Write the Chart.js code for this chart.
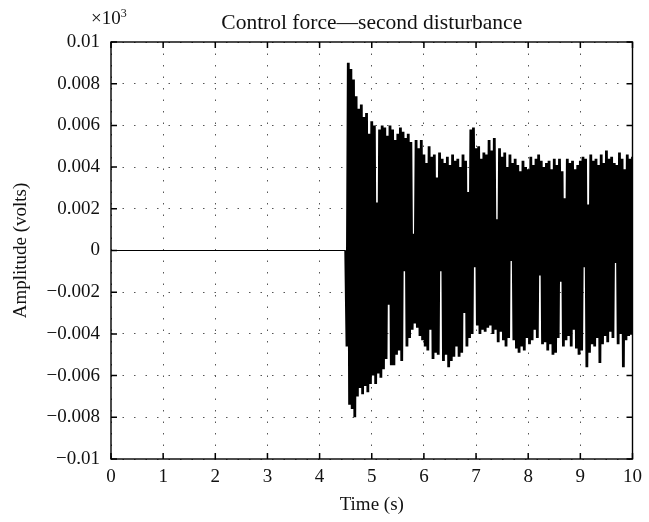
<!DOCTYPE html>
<html>
<head>
<meta charset="utf-8">
<script src="https://cdn.jsdelivr.net/npm/chart.js@4.4.1/dist/chart.umd.min.js"></script>
<style>
  html, body { margin: 0; padding: 0; background: #fff; }
</style>
</head>
<body>
<canvas id="forceChart" width="649" height="522"></canvas>
<script>
// Labels
const chartTitle = "Control force\u2014second disturbance";
const xAxisTitle = "Time (s)";
const yAxisTitle = "Amplitude (volts)";

// Tick values (y in units of 1e-3 V)
const xTickValues = [0, 1, 2, 3, 4, 5, 6, 7, 8, 9, 10];
const yTickValues = [-10, -8, -6, -4, -2, 0, 2, 4, 6, 8, 10];

// Controller idle: flat zero until the disturbance
const quietTimes = [0, 4.5];
const quietValues = [0, 0];

// Control force after 4.5 s, one sample every 0.025 s (1e-3 V)
const sampleStart = 4.5;
const sampleStep = 0.025;
const forceValues = [
  0, -4.6, 9.0, -7.4, 8.7, -7.6, 8.2, -8.0, 7.4, -7.0,
  6.8, -6.6, 7.0, -6.9, 6.4, -6.5, 6.6, -6.8, 5.6, -6.4,
  6.2, -6.0, 6.0, -6.4, 2.3, -5.9, 5.8, -6.1, 6.0, -5.7,
  5.9, -5.2, 5.5, -2.6, 6.0, -5.5, 5.8, -5.5, 5.3, -5.0,
  5.6, -4.8, 5.9, -5.3, 5.7, -1.0, 5.4, -4.6, 5.6, -4.2,
  5.2, -3.8, 0.8, -3.5, 5.3, -3.7, 4.9, -4.1, 5.3, -4.3,
  4.6, -4.6, 4.2, -4.8, 5.0, -3.8, 4.5, -5.2, 4.6, -4.9,
  3.5, -5.0, 4.7, -1.0, 4.4, -5.3, 4.2, -5.0, 4.5, -5.6,
  4.1, -5.3, 4.6, -5.1, 4.3, -4.6, 4.4, -5.1, 4.0, -4.9,
  4.6, -3.0, 4.3, -4.6, 2.8, -4.2, 5.8, -4.0, 5.9, -0.8,
  4.9, -3.6, 5.0, -4.0, 4.4, -3.8, 4.7, -3.9, 4.6, -3.7,
  5.3, -3.6, 4.8, -4.0, 5.4, -3.8, 1.5, -4.4, 4.9, -3.9,
  4.5, -4.3, 4.7, -4.6, 4.0, -4.2, 4.6, -0.5, 4.2, -4.3,
  4.4, -4.7, 4.1, -4.9, 3.8, -4.6, 4.3, -4.8, 4.0, -4.2,
  3.9, -4.5, 4.5, -4.3, 4.1, -3.8, 4.4, -4.2, 4.6, -1.2,
  4.3, -4.5, 4.0, -4.4, 4.2, -4.8, 4.3, -4.5, 3.9, -5.0,
  4.4, -4.9, 4.1, -4.2, 4.4, -1.5, 3.8, -4.6, 2.5, -4.3,
  4.4, -4.1, 4.2, -4.6, 4.3, -3.8, 3.9, -4.7, 4.1, -5.0,
  4.3, -4.8, 4.5, -0.8, 4.4, -5.6, 2.2, -4.9, 4.6, -4.5,
  4.3, -4.6, 4.4, -4.2, 4.1, -5.4, 4.6, -4.5, 4.2, -4.1,
  4.8, -4.4, 4.4, -3.9, 4.5, -4.2, 4.2, -0.6, 4.1, -4.5,
  4.7, -4.0, 4.4, -5.6, 3.9, -4.3, 4.6, -4.1, 4.4, -4.0,
  4.5
];

const fontFamily = '"Liberation Serif", "Times New Roman", serif';

const quietPoints = quietTimes.map((t, i) => ({ x: t, y: quietValues[i] }));
const forcePoints = forceValues.map((v, i) => ({ x: sampleStart + i * sampleStep, y: v }));

// y tick text: 1e-3 V units back to volts, real minus sign
function yLabel(v) {
  if (v === 0) return "0";
  return String(v / 1000).replace("-", "\u2212");
}

// Frame, inward tick marks, title and the exponent note
const framePlugin = {
  id: "frame",
  afterDraw(chart) {
    const { ctx, chartArea: a, scales } = chart;
    ctx.save();
    ctx.strokeStyle = "#000";
    ctx.lineWidth = 1.4;
    ctx.strokeRect(a.left, a.top, a.right - a.left, a.bottom - a.top);

    const tick = 6;
    ctx.lineWidth = 1.5;
    ctx.beginPath();
    xTickValues.forEach(v => {
      const x = scales.x.getPixelForValue(v);
      ctx.moveTo(x, a.bottom); ctx.lineTo(x, a.bottom - tick);
      ctx.moveTo(x, a.top); ctx.lineTo(x, a.top + tick);
    });
    yTickValues.forEach(v => {
      const y = scales.y.getPixelForValue(v);
      ctx.moveTo(a.left, y); ctx.lineTo(a.left + tick, y);
      ctx.moveTo(a.right, y); ctx.lineTo(a.right - tick, y);
    });
    ctx.stroke();

    ctx.fillStyle = "#111";
    ctx.textAlign = "center";
    ctx.textBaseline = "alphabetic";
    ctx.font = "21.5px " + fontFamily;
    ctx.fillText(chartTitle, (a.left + a.right) / 2, 29);

    ctx.textAlign = "left";
    ctx.font = "19px " + fontFamily;
    ctx.fillText("\u00d710", 91, 24);
    const w = ctx.measureText("\u00d710").width;
    ctx.font = "12px " + fontFamily;
    ctx.fillText("3", 91 + w, 17);
    ctx.restore();
  }
};

new Chart(document.getElementById("forceChart"), {
  type: "line",
  data: {
    datasets: [
      {
        data: quietPoints,
        borderColor: "#000",
        borderWidth: 1,
        pointRadius: 0,
      },
      {
        data: forcePoints,
        borderColor: "#000",
        borderWidth: 2.8,
        borderJoinStyle: "bevel",
        pointRadius: 0,
        tension: 0,
      },
    ],
  },
  options: {
    responsive: false,
    animation: false,
    parsing: false,
    layout: { padding: { top: 42, right: 13, left: 0, bottom: 0 } },
    plugins: {
      legend: { display: false },
      tooltip: { enabled: false },
    },
    scales: {
      x: {
        type: "linear",
        min: 0,
        max: 10,
        afterFit: (s) => { s.height = 63; },
        afterBuildTicks: (s) => { s.ticks = xTickValues.map(v => ({ value: v })); },
        grid: { color: "#555", lineWidth: 1, drawTicks: false },
        border: { display: false, dash: [1.5, 10] },
        ticks: {
          color: "#111",
          padding: 7,
          maxRotation: 0,
          font: { family: fontFamily, size: 19 },
        },
        title: {
          display: true,
          text: xAxisTitle,
          color: "#111",
          font: { family: fontFamily, size: 19 },
          padding: { top: 0, bottom: 6 },
        },
      },
      y: {
        type: "linear",
        min: -10,
        max: 10,
        afterFit: (s) => { s.width = 111; },
        afterBuildTicks: (s) => { s.ticks = yTickValues.map(v => ({ value: v })); },
        grid: { color: "#555", lineWidth: 1, drawTicks: false },
        border: { display: false, dash: [1.5, 10] },
        ticks: {
          color: "#111",
          padding: 11,
          callback: yLabel,
          font: { family: fontFamily, size: 19 },
        },
        title: {
          display: true,
          text: yAxisTitle,
          color: "#111",
          font: { family: fontFamily, size: 19 },
          padding: { top: 10, bottom: 0 },
        },
      },
    },
  },
  plugins: [framePlugin],
});
</script>
</body>
</html>
